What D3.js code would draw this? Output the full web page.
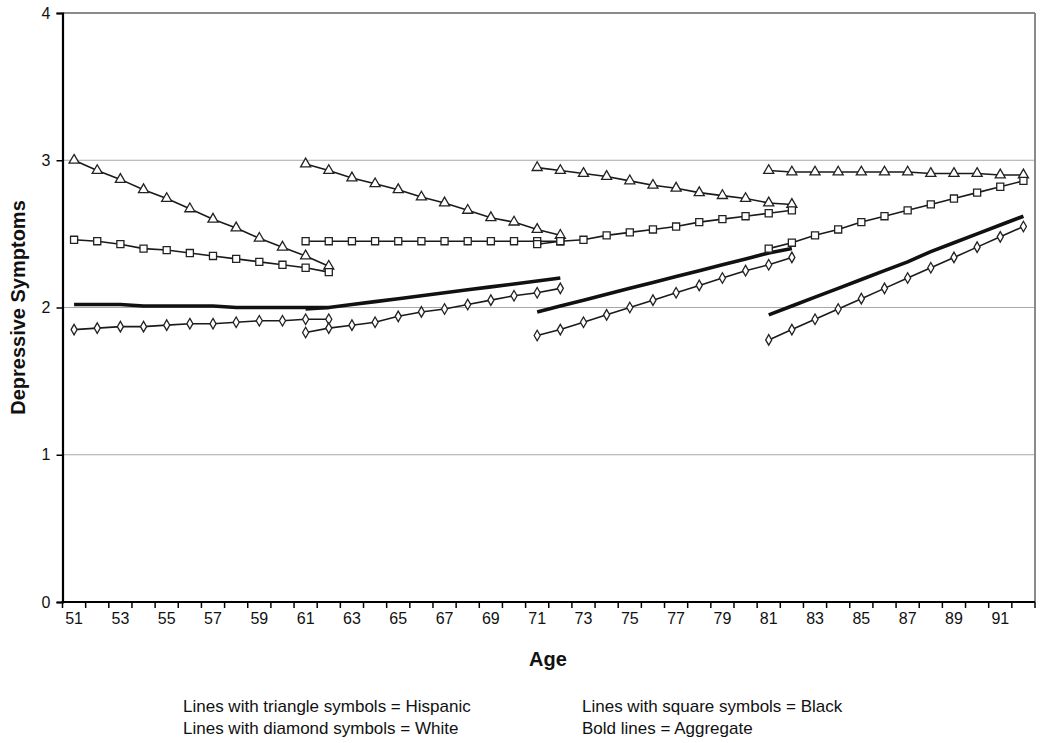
<!DOCTYPE html>
<html>
<head>
<meta charset="utf-8">
<script src="https://cdn.jsdelivr.net/npm/d3@7"></script>
<style>
  html, body { margin: 0; padding: 0; background: #fff; }
  svg { display: block; font-family: "Liberation Sans", Arial, sans-serif; }
</style>
</head>
<body>
<svg id="chart" width="1050" height="743"></svg>
<script>
// ---- data ----
const ages = [51,52,53,54,55,56,57,58,59,60,61,62,63,64,65,66,67,68,69,70,71,72,
              73,74,75,76,77,78,79,80,81,82,83,84,85,86,87,88,89,90,91,92];
const tickLabels = [51,53,55,57,59,61,63,65,67,69,71,73,75,77,79,81,83,85,87,89,91];
const yTicks = [0,1,2,3,4];
const cohortStarts = [51, 61, 71, 81];

// Hispanic (triangles), one array per cohort (12 years each)
const hispanic1 = [3.00,2.93,2.87,2.80,2.74,2.67,2.60,2.54,2.47,2.41,2.35,2.28];
const hispanic2 = [2.975,2.93,2.88,2.84,2.80,2.75,2.71,2.66,2.61,2.58,2.53,2.49];
const hispanic3 = [2.95,2.93,2.91,2.89,2.86,2.83,2.81,2.78,2.76,2.74,2.71,2.70];
const hispanic4 = [2.93,2.92,2.92,2.92,2.92,2.92,2.92,2.91,2.91,2.91,2.90,2.90];

// Black (squares)
const black1 = [2.46,2.45,2.43,2.40,2.39,2.37,2.35,2.33,2.31,2.29,2.27,2.24];
const black2 = [2.45,2.45,2.45,2.45,2.45,2.45,2.45,2.45,2.45,2.45,2.45,2.45];
const black3 = [2.43,2.45,2.46,2.49,2.51,2.53,2.55,2.58,2.60,2.62,2.64,2.66];
const black4 = [2.40,2.44,2.49,2.53,2.58,2.62,2.66,2.70,2.74,2.78,2.82,2.86];

// White (diamonds)
const white1 = [1.85,1.86,1.87,1.87,1.88,1.89,1.89,1.90,1.91,1.91,1.92,1.92];
const white2 = [1.83,1.86,1.88,1.90,1.94,1.97,1.99,2.02,2.05,2.08,2.10,2.13];
const white3 = [1.81,1.85,1.90,1.95,2.00,2.05,2.10,2.15,2.20,2.25,2.29,2.34];
const white4 = [1.78,1.85,1.92,1.99,2.06,2.13,2.20,2.27,2.34,2.41,2.48,2.55];

// Aggregate (bold lines)
const aggregate1 = [2.02,2.02,2.02,2.01,2.01,2.01,2.01,2.00,2.00,2.00,2.00,2.00];
const aggregate2 = [1.99,2.00,2.02,2.04,2.06,2.08,2.10,2.12,2.14,2.16,2.18,2.20];
const aggregate3 = [1.97,2.01,2.05,2.09,2.13,2.17,2.21,2.25,2.29,2.33,2.37,2.40];
const aggregate4 = [1.95,2.01,2.07,2.13,2.19,2.25,2.31,2.38,2.44,2.50,2.56,2.62];

const legendLines = [
  ["Lines with triangle symbols = Hispanic", "Lines with square symbols = Black"],
  ["Lines with diamond symbols = White", "Bold lines = Aggregate"]
];

// ---- build ----
const svg = d3.select("#chart");
const L = 62.5, R = 1035, T = 13, B = 602;

const x = d3.scaleBand().domain(ages).range([L, R]).padding(0);
const y = d3.scaleLinear().domain([0, 4]).range([B, T]);
const cx = a => x(a) + x.bandwidth() / 2;

function toPts(start, vals) { return vals.map((v, i) => ({ age: ages[ages.indexOf(start) + i], v })); }

// gridlines
svg.append("g").selectAll("line").data([1,2,3]).join("line")
  .attr("x1", L).attr("x2", R)
  .attr("y1", d => y(d)).attr("y2", d => y(d))
  .attr("stroke", "#a8a8a8").attr("stroke-width", 1);

// top & right border
svg.append("line").attr("x1", L).attr("x2", R).attr("y1", y(4)).attr("y2", y(4))
  .attr("stroke", "#8a8a8a").attr("stroke-width", 2);
svg.append("line").attr("x1", R).attr("x2", R).attr("y1", y(4)).attr("y2", y(0))
  .attr("stroke", "#8a8a8a").attr("stroke-width", 2);

// y axis
const yAxis = svg.append("g").attr("transform", `translate(${L},0)`)
  .call(d3.axisLeft(y).tickValues(yTicks).tickSize(6).tickPadding(6).tickFormat(d3.format("d")));
yAxis.select(".domain").attr("stroke", "#000").attr("stroke-width", 2.2);
yAxis.selectAll(".tick line").attr("stroke", "#000").attr("stroke-width", 1.5);
yAxis.selectAll(".tick text").attr("font-size", 16).attr("fill", "#111")
  .attr("font-family", "Liberation Sans, Arial, sans-serif");

// x axis labels
const xAxis = svg.append("g").attr("transform", `translate(0,${B})`)
  .call(d3.axisBottom(x).tickValues(tickLabels).tickSize(0).tickPadding(11));
xAxis.select(".domain").remove();
xAxis.selectAll(".tick text").attr("font-size", 16).attr("fill", "#111")
  .attr("font-family", "Liberation Sans, Arial, sans-serif");

// x tick marks at band boundaries
const bounds = ages.map(a => x(a)).concat([R]);
svg.append("g").selectAll("line").data(bounds).join("line")
  .attr("x1", d => d).attr("x2", d => d).attr("y1", B).attr("y2", B + 6)
  .attr("stroke", "#000").attr("stroke-width", 1.5);
svg.append("line").attr("x1", L - 1).attr("x2", R).attr("y1", B).attr("y2", B)
  .attr("stroke", "#000").attr("stroke-width", 2.2);

// axis titles
svg.append("text").attr("transform", `translate(25,${(T + B) / 2}) rotate(-90)`)
  .attr("text-anchor", "middle").attr("font-weight", "bold").attr("font-size", 20)
  .attr("fill", "#111").text("Depressive Symptoms");
svg.append("text").attr("x", 548).attr("y", 666)
  .attr("text-anchor", "middle").attr("font-weight", "bold").attr("font-size", 20)
  .attr("fill", "#111").text("Age");

const line = d3.line().x(d => cx(d.age)).y(d => y(d.v));

const groups = [
  { data: [hispanic1, hispanic2, hispanic3, hispanic4], sym: d3.symbolTriangle, size: 44 },
  { data: [black1, black2, black3, black4], sym: d3.symbolSquare, size: 50 },
  { data: [white1, white2, white3, white4], sym: d3.symbolDiamond, size: 32 }
];
const aggs = [aggregate1, aggregate2, aggregate3, aggregate4];

// bold aggregate lines
aggs.forEach((vals, i) => {
  svg.append("path").datum(toPts(cohortStarts[i], vals))
    .attr("d", line).attr("fill", "none").attr("stroke", "#111")
    .attr("stroke-width", 3.6).attr("stroke-linecap", "butt");
});

// thin group lines with markers
groups.forEach(g => {
  g.data.forEach((vals, i) => {
    const pts = toPts(cohortStarts[i], vals);
    svg.append("path").datum(pts).attr("d", line).attr("fill", "none")
      .attr("stroke", "#1a1a1a").attr("stroke-width", 1.6);
    svg.append("g").selectAll("path").data(pts).join("path")
      .attr("transform", d => `translate(${cx(d.age)},${y(d.v)})`)
      .attr("d", d3.symbol().type(g.sym).size(g.size))
      .attr("fill", "#fff").attr("stroke", "#222").attr("stroke-width", 1.3);
  });
});

// legend text
const legX = [183, 582];
const legY = [712, 734];
legendLines.forEach((row, r) => {
  row.forEach((t, c) => {
    svg.append("text").attr("x", legX[c]).attr("y", legY[r])
      .attr("font-size", 17).attr("fill", "#111").text(t);
  });
});
</script>
</body>
</html>
